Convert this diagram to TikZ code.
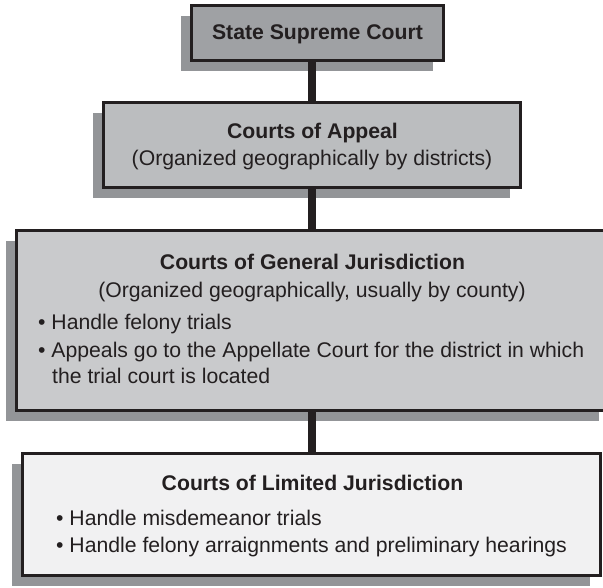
\documentclass[tikz,border=0pt]{standalone}
\usepackage{fontspec}
\setmainfont{Liberation Sans}
\usetikzlibrary{shadows}
\definecolor{ink}{HTML}{231F20}
\definecolor{shade}{HTML}{939598}
\definecolor{fillA}{HTML}{9FA1A4}
\definecolor{fillB}{HTML}{BBBDBF}
\definecolor{fillC}{HTML}{C9CACC}
\definecolor{fillD}{HTML}{F1F1F2}
\tikzset{
  courtbox/.style={draw=ink, line width=2.6pt, inner sep=0pt, rectangle,
    drop shadow={shadow xshift=-10.5pt, shadow yshift=-10.5pt, opacity=1, fill=shade}},
  txt/.style={inner sep=0pt, text=ink, anchor=base, font=\fontsize{21.2}{25}\selectfont},
  head/.style={txt, font=\fontsize{21.2}{25}\selectfont\bfseries},
  item/.style={txt, anchor=base west},
  link/.style={draw=ink, line width=7.5pt}
}
\begin{document}
\begin{tikzpicture}[x=1pt,y=-1pt]
\useasboundingbox (0,0) rectangle (603,588);
\clip (0,0) rectangle (603,588);

% court boxes (path centre, size)
\node[courtbox, fill=fillA, minimum width=252.5pt, minimum height=55.5pt] (b1) at (317.5,33) {};
\node[courtbox, fill=fillB, minimum width=417.5pt, minimum height=85.5pt] (b2) at (312,145) {};
\node[courtbox, fill=fillC, minimum width=593.5pt, minimum height=180.5pt] (b3) at (313,320.5) {};
\node[courtbox, fill=fillD, minimum width=578.5pt, minimum height=122.5pt] (b4) at (311.5,514.5) {};

% vertical spine joining the levels
\coordinate (spine) at (312,0);
\draw[link] (b1.south -| spine) -- (b2.north -| spine);
\draw[link] (b2.south -| spine) -- (b3.north -| spine);
\draw[link] (b3.south -| spine) -- (b4.north -| spine);

% State Supreme Court
\node[head] (t1) at (317.5,40) {State Supreme Court};

% Courts of Appeal
\node[head] (t2a) at (312.5,139) {Courts of Appeal};
\node[txt]  (t2b) at (312,166) {(Organized geographically by districts)};

% Courts of General Jurisdiction
\node[head] (t3a) at (312.5,270) {Courts of General Jurisdiction};
\node[txt]  (t3b) at (312,298) {(Organized geographically, usually by county)};
\node[item] (t3c) at (38,330) {• Handle felony trials};
\node[item] (t3d) at (38,357) {• Appeals go to the Appellate Court for the district in which};
\node[item] (t3e) at (52,383) {the trial court is located};

% Courts of Limited Jurisdiction
\node[head] (t4a) at (312.5,490) {Courts of Limited Jurisdiction};
\node[item] (t4b) at (56,525) {• Handle misdemeanor trials};
\node[item] (t4c) at (56,552) {• Handle felony arraignments and preliminary hearings};
\end{tikzpicture}
\end{document}
